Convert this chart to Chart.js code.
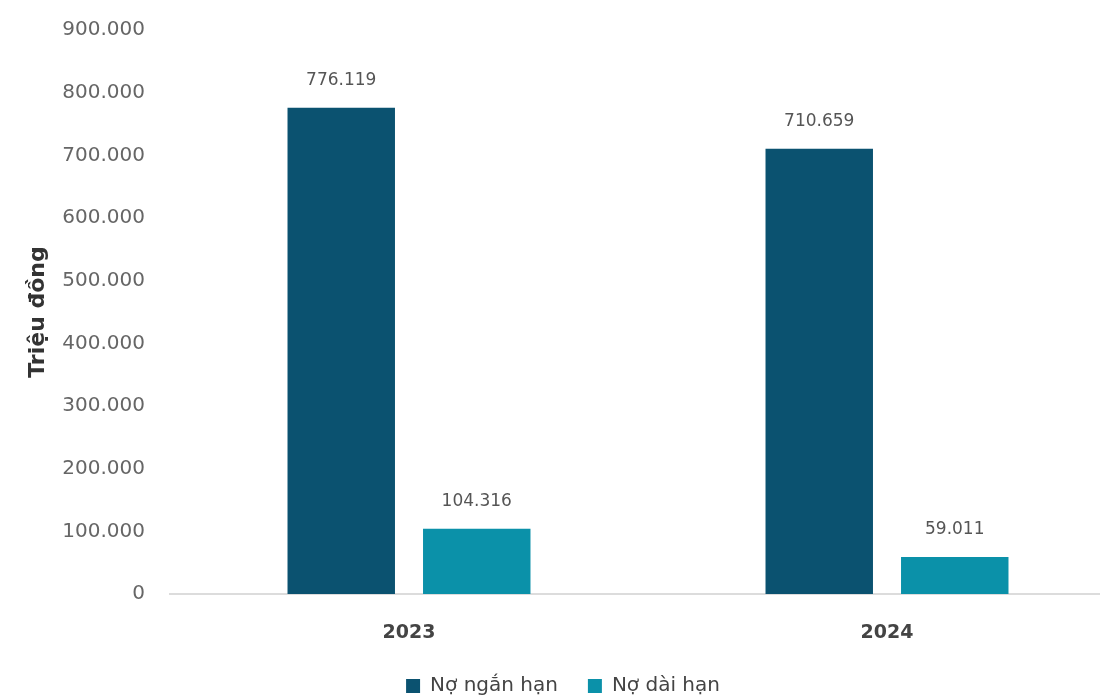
<!DOCTYPE html>
<html>
<head>
<meta charset="utf-8">
<script src="https://cdn.jsdelivr.net/npm/chart.js@4/dist/chart.umd.min.js"></script>
<style>
  html, body { margin: 0; padding: 0; background: #fff; overflow: hidden; }
  #wrap { width: 1126px; height: 697px; }
</style>
</head>
<body>
<div id="wrap"><canvas id="debtChart"></canvas></div>
<script>
const years = ['2023', '2024'];
const shortTermDebt = [776119, 710659];
const longTermDebt = [104316, 59011];
const yTicks = [0, 100000, 200000, 300000, 400000, 500000, 600000, 700000, 800000, 900000];

const fmt = v => v.toLocaleString('de-DE');
const FONT = "'DejaVu Sans', 'Noto Sans', sans-serif";

// draws the value above each bar
const barValues = {
    id: 'barValues',
    afterDatasetsDraw(chart) {
        const ctx = chart.ctx;
        ctx.save();
        ctx.font = `17px ${FONT}`;
        ctx.fillStyle = '#555';
        ctx.textAlign = 'center';
        ctx.textBaseline = 'middle';
        chart.data.datasets.forEach((ds, i) => {
            chart.getDatasetMeta(i).data.forEach((bar, j) => {
                ctx.fillText(fmt(ds.data[j]), bar.x, bar.y - 27);
            });
        });
        ctx.restore();
    }
};

new Chart(document.getElementById('debtChart'), {
    type: 'bar',
    data: {
        labels: years,
        datasets: [
            { label: 'Nợ ngắn hạn', data: shortTermDebt, backgroundColor: '#0b5270' },
            { label: 'Nợ dài hạn', data: longTermDebt, backgroundColor: '#0b91a9' }
        ]
    },
    options: {
        responsive: true,
        maintainAspectRatio: false,
        animation: false,
        layout: { padding: { top: 30, right: 0, bottom: -9, left: 0 } },
        datasets: { bar: { categoryPercentage: 0.567, barPercentage: 0.793 } },
        plugins: {
            tooltip: { enabled: false },
            legend: {
                position: 'bottom',
                labels: {
                    font: { family: FONT, size: 20 },
                    color: '#444',
                    boxWidth: 14,
                    boxHeight: 14,
                    padding: 30
                }
            }
        },
        scales: {
            x: {
                afterFit: scale => { scale.height = 52; },
                grid: { display: false, drawTicks: false },
                border: { color: '#dcdcdc', width: 2 },
                ticks: { font: { family: FONT, size: 19, weight: 'bold' }, color: '#444', padding: 28 }
            },
            y: {
                min: 0,
                max: 900000,
                afterBuildTicks: scale => { scale.ticks = yTicks.map(v => ({ value: v })); },
                afterFit: scale => { scale.width = 170; scale.paddingTop = 0; scale.paddingBottom = 0; },
                grid: { display: false, drawTicks: false },
                border: { display: false },
                ticks: { font: { family: FONT, size: 20 }, color: '#666', padding: 25, callback: v => fmt(v) },
                title: {
                    display: true,
                    text: 'Triệu đồng',
                    font: { family: FONT, size: 22, weight: 'bold' },
                    color: '#333',
                    padding: { top: 25 }
                }
            }
        }
    },
    plugins: [barValues]
});
</script>
</body>
</html>
